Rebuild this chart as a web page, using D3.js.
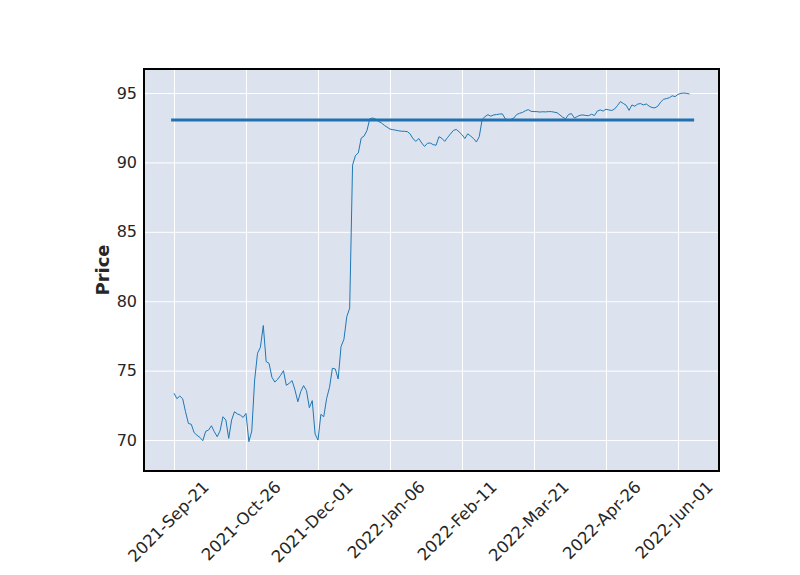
<!DOCTYPE html>
<html>
<head>
<meta charset="utf-8">
<script src="https://cdn.jsdelivr.net/npm/d3@7"></script>
<style>
  body { margin: 0; background: #fff; }
  svg { display: block; font-family: "DejaVu Sans", sans-serif; }
</style>
</head>
<body>
<svg id="chart" width="800" height="575"></svg>
<script>
// Closing prices, one per trading day (index 0 = 2021-Sep-21)
const prices = [
  73.37, 72.98, 73.17, 72.98, 72.04, 71.20, 71.13, 70.53, 70.34, 70.19,
  69.95, 70.63, 70.72, 71.03, 70.60, 70.24, 70.67, 71.68, 71.44, 70.12,
  71.44, 72.04, 71.88, 71.80, 71.63, 71.92, 69.88, 70.65, 74.33, 76.25,
  76.68, 78.25, 75.65, 75.53, 74.52, 74.18, 74.38, 74.66, 75.00, 73.94,
  74.09, 74.28, 73.61, 72.76, 73.49, 73.92, 73.56, 72.33, 72.84, 70.43,
  70.00, 71.85, 71.68, 73.00, 73.80, 75.17, 75.12, 74.40, 76.73, 77.26,
  78.89, 79.50, 89.80, 90.50, 90.68, 91.75, 91.90, 92.30, 93.15, 93.20,
  93.12, 92.95, 92.85, 92.68, 92.54, 92.40, 92.36, 92.32, 92.28, 92.25,
  92.24, 92.22, 92.05, 91.70, 91.52, 91.72, 91.40, 91.15, 91.38, 91.40,
  91.28, 91.24, 91.85, 91.74, 91.52, 91.80, 92.05, 92.30, 92.38, 92.20,
  92.00, 91.72, 92.06, 91.90, 91.72, 91.47, 91.86, 93.10, 93.30, 93.44,
  93.33, 93.42, 93.45, 93.48, 93.50, 93.15, 93.05, 93.10, 93.20, 93.45,
  93.54, 93.60, 93.72, 93.80, 93.68, 93.66, 93.66, 93.63, 93.65, 93.64,
  93.66, 93.66, 93.62, 93.58, 93.42, 93.25, 93.15, 93.45, 93.52, 93.20,
  93.30, 93.40, 93.42, 93.38, 93.37, 93.47, 93.38, 93.70, 93.78, 93.70,
  93.83, 93.78, 93.74, 93.85, 94.10, 94.38, 94.25, 94.12, 93.75, 94.14,
  94.05, 94.20, 94.24, 94.14, 94.21, 94.05, 93.95, 93.93, 94.05, 94.35,
  94.55, 94.60, 94.66, 94.80, 94.74, 94.90, 94.97, 95.00, 94.97, 94.93
];
// Horizontal reference level
const hlineLevel = [93.05];
// X tick positions (trading-day index) and labels
const xTickIndex = [0, 25, 50, 75, 100, 125, 150, 175];
const xTickLabels = ["2021-Sep-21", "2021-Oct-26", "2021-Dec-01", "2022-Jan-06",
                     "2022-Feb-11", "2022-Mar-21", "2022-Apr-26", "2022-Jun-01"];
const yTicks = [70, 75, 80, 85, 90, 95];
const yLabel = "Price";

const svg = d3.select("#chart");
const L = 144, R = 719, T = 69, B = 471;

const x = d3.scaleLinear().domain([-10.42, 189.24]).range([L, R]);
const y = d3.scaleLinear().domain([67.77, 96.73]).range([B, T]);

// Axes background
svg.append("rect").attr("x", L).attr("y", T).attr("width", R - L).attr("height", B - T)
  .attr("fill", "#DCE3EF");

svg.append("clipPath").attr("id", "clip")
  .append("rect").attr("x", L).attr("y", T).attr("width", R - L).attr("height", B - T);

// Grid via axes
const gx = svg.append("g").attr("transform", `translate(0,${B})`)
  .call(d3.axisBottom(x).tickValues(xTickIndex).tickSize(-(B - T)).tickFormat(""));
gx.select(".domain").remove();
gx.selectAll(".tick line").attr("stroke", "#fff").attr("stroke-width", 1);

const gy = svg.append("g").attr("transform", `translate(${L},0)`)
  .call(d3.axisLeft(y).tickValues(yTicks).tickSize(-(R - L)).tickFormat(d3.format("d")).tickPadding(7));
gy.select(".domain").remove();
gy.selectAll(".tick line").attr("stroke", "#fff").attr("stroke-width", 1);
gy.selectAll(".tick text").attr("font-size", 16).attr("fill", "#262626")
  .attr("font-family", "DejaVu Sans, sans-serif");

// X tick labels, rotated 45°
const xl = svg.append("g");
xTickIndex.forEach((d, i) => {
  xl.append("text")
    .attr("transform", `translate(${x(d) + 36},${B + 17}) rotate(-45)`)
    .attr("text-anchor", "end")
    .attr("font-size", 16.5)
    .attr("fill", "#262626")
    .text(xTickLabels[i]);
});

const plot = svg.append("g").attr("clip-path", "url(#clip)");

// Horizontal line
plot.selectAll("line.hl").data(hlineLevel).enter().append("line")
  .attr("class", "hl")
  .attr("x1", x(-1.0)).attr("x2", x(180.6))
  .attr("y1", d => y(d)).attr("y2", d => y(d))
  .attr("stroke", "#2171b0").attr("stroke-width", 3);

// Price line
const line = d3.line().x((d, i) => x(i)).y(d => y(d));
plot.append("path").datum(prices)
  .attr("d", line)
  .attr("fill", "none")
  .attr("stroke", "#1f77b4")
  .attr("stroke-width", 1);

// Frame
svg.append("rect").attr("x", L).attr("y", T).attr("width", R - L).attr("height", B - T)
  .attr("fill", "none").attr("stroke", "#000").attr("stroke-width", 2);

// Y label
svg.append("text")
  .attr("transform", `translate(109,${(T + B) / 2}) rotate(-90)`)
  .attr("text-anchor", "middle")
  .attr("font-size", 18).attr("font-weight", "bold").attr("fill", "#262626")
  .text(yLabel);
</script>
</body>
</html>
